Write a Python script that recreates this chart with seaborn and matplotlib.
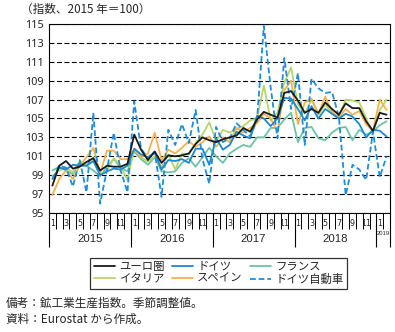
import numpy as np
import pandas as pd
import matplotlib
matplotlib.use("Agg")
import matplotlib.pyplot as plt
from matplotlib.lines import Line2D
import seaborn as sns

# Monthly industrial production index (2015 = 100), Jan 2015 - Feb 2019
euro_area = [97.9, 100.0, 100.5, 99.7, 99.9, 100.4, 100.8, 99.5, 100.0, 99.9, 99.9, 100.2,
             103.3, 101.7, 100.6, 101.5, 100.3, 101.1, 101.0, 101.1, 101.3, 102.3, 103.0, 102.7,
             102.5, 102.8, 103.0, 103.2, 104.0, 103.6, 104.9, 105.7, 105.4, 105.1, 107.7, 107.9,
             106.9, 105.6, 106.0, 105.6, 106.7, 106.0, 105.4, 106.6, 106.1, 106.1, 104.7, 103.7,
             105.6, 105.4]
germany = [98.6, 99.8, 99.6, 100.1, 100.0, 100.0, 100.5, 99.0, 99.4, 99.7, 99.6, 100.0,
           101.8, 101.2, 100.9, 101.4, 99.6, 100.6, 100.5, 100.7, 100.3, 101.8, 101.8, 100.1,
           102.9, 101.7, 102.2, 103.6, 103.2, 102.9, 105.3, 105.0, 104.2, 105.0, 107.2, 107.1,
           106.0, 104.8, 106.3, 105.0, 106.0, 105.5, 105.0, 105.5, 105.2, 104.4, 103.0, 103.8,
           103.7, 103.1]
france = [99.5, 99.9, 99.5, 99.1, 100.4, 100.0, 99.5, 98.9, 99.9, 100.7, 99.8, 99.4,
          101.5, 100.7, 100.1, 100.9, 99.4, 99.3, 99.4, 100.3, 100.8, 99.9, 100.9, 101.9,
          101.0, 100.3, 101.3, 101.8, 102.2, 102.0, 103.0, 103.0, 104.0, 104.0, 104.9, 105.6,
          102.5, 104.0, 104.1, 102.9, 102.7, 103.5, 104.0, 104.1, 102.7, 103.8, 103.3, 103.6,
          104.3, 104.7]
italy = [98.9, 99.5, 99.8, 99.3, 100.5, 100.1, 100.9, 99.0, 99.5, 100.8, 100.0, 98.5,
         101.8, 100.9, 100.4, 101.0, 99.8, 101.2, 99.6, 101.3, 101.2, 102.4, 103.3, 104.6,
         102.6, 103.8, 103.5, 103.9, 104.2, 104.8, 105.0, 108.5, 104.8, 105.6, 108.8, 110.4,
         106.5, 105.5, 107.0, 105.4, 106.5, 105.5, 105.2, 107.0, 106.9, 106.7, 105.0, 103.4,
         105.9, 107.0]
spain = [96.9, 98.6, 99.5, 98.6, 100.0, 100.9, 101.9, 99.2, 101.6, 101.6, 100.7, 100.7,
         101.7, 100.9, 101.3, 103.5, 100.6, 101.7, 101.3, 101.9, 102.6, 102.0, 102.5, 103.1,
         102.0, 103.0, 102.5, 104.0, 103.5, 104.0, 104.5, 105.5, 105.0, 103.6, 108.0, 109.0,
         104.4, 106.7, 107.1, 105.5, 107.3, 105.7, 105.1, 106.0, 105.4, 105.8, 104.4, 103.7,
         107.0, 105.9]
germany_auto = [98.6, 100.0, 99.8, 97.8, 100.6, 97.2, 105.6, 96.0, 99.6, 103.5, 99.5, 97.2,
                106.8, 101.8, 100.8, 101.5, 96.7, 103.8, 102.2, 104.4, 102.4, 105.9, 100.7, 98.1,
                104.1, 102.5, 102.9, 104.5, 103.8, 103.1, 104.8, 114.8, 108.3, 102.9, 111.4, 106.0,
                109.8, 102.2, 109.2, 108.2, 107.7, 107.8, 105.2, 96.9, 100.1, 99.6, 98.5, 103.6,
                98.8, 101.0]

series_names = ["ユーロ圏", "ドイツ", "フランス", "イタリア", "スペイン", "ドイツ自動車"]
month_labels = ["1", "3", "5", "7", "9", "11"]
year_labels = ["2015", "2016", "2017", "2018", "2019"]
y_ticks = [95, 97, 99, 101, 103, 105, 107, 109, 111, 113, 115]

series_values = [euro_area, germany, france, italy, spain, germany_auto]
n = len(euro_area)
df = pd.DataFrame({
    "t": np.tile(np.arange(n), len(series_names)),
    "value": np.concatenate(series_values),
    "series": np.repeat(series_names, n),
})

sns.set_theme(style="white")
plt.rcParams["font.family"] = ["Noto Sans CJK JP", "DejaVu Sans"]

palette = {
    "ユーロ圏": "#1a1a1a",
    "ドイツ": "#1b88d2",
    "フランス": "#6cc4a6",
    "イタリア": "#b6d66c",
    "スペイン": "#f4b24f",
    "ドイツ自動車": "#1f8ed8",
}
dash_map = {name: "" for name in series_names}
dash_map["ドイツ自動車"] = (3.2, 1.6)
draw_order = ["フランス", "イタリア", "スペイン", "ドイツ", "ドイツ自動車", "ユーロ圏"]

W, H = 395, 332
fig = plt.figure(figsize=(W / 100, H / 100), dpi=100)
L, R, T, B = 49, 390, 24, 213
ax = fig.add_axes([L / W, 1 - B / H, (R - L) / W, (B - T) / H])

sns.lineplot(data=df, x="t", y="value", hue="series", style="series",
             hue_order=draw_order, style_order=draw_order,
             palette=palette, dashes=dash_map, linewidth=1.3,
             legend=False, ax=ax)

# y axis
ax.set_ylim(95, 115)
ax.set_yticks(y_ticks)
ax.set_yticklabels([str(v) for v in y_ticks], fontsize=7.8, family="Noto Sans")
ax.tick_params(axis="y", length=0, pad=4)
ax.yaxis.grid(True, color="black", linestyle=(0, (4.5, 2.2)), linewidth=0.8)
ax.xaxis.grid(False)
ax.set_ylabel("")
ax.set_xlabel("")
for s in ax.spines.values():
    s.set_color("black")
    s.set_linewidth(0.8)

# x axis: month cells with short separators, years with long separators
ax.set_xlim(-0.5, n - 0.5)
year_bounds = [-0.5, 11.5, 23.5, 35.5, 47.5, n - 0.5]
ax.set_xticks(year_bounds)
ax.set_xticklabels([])
ax.set_xticks(np.arange(n + 1) - 0.5, minor=True)
ax.tick_params(axis="x", which="major", length=24.5, width=0.8, color="black",
               direction="out", bottom=True)
ax.tick_params(axis="x", which="minor", length=11.5, width=0.7, color="black",
               direction="out", bottom=True)

xtrans = ax.get_xaxis_transform()
axes_h = B - T
month_y = -(223 - B) / axes_h
year_y = -(239.5 - B) / axes_h
for i in range(n):
    m = i % 12
    if m % 2 == 0:
        ax.text(i, month_y, month_labels[m // 2], transform=xtrans,
                ha="center", va="center", fontsize=5.8, family="DejaVu Sans")
for k, yl in enumerate(year_labels):
    lo, hi = year_bounds[k], year_bounds[k + 1]
    small = (hi - lo) < 6
    ax.text((lo + hi) / 2, year_y + (0.03 if small else 0), yl, transform=xtrans,
            ha="center", va="center", fontsize=4.2 if small else 8.2,
            family="Liberation Sans")

# header and notes
fig.text(21 / W, 1 - 9.5 / H, "（指数、2015 年＝100）", fontsize=8.4, ha="left", va="center")
fig.text(6 / W, 1 - 303 / H, "備考：鉱工業生産指数。季節調整値。", fontsize=8.4, ha="left", va="center")
fig.text(6 / W, 1 - 319.5 / H, "資料：Eurostat から作成。", fontsize=8.4, ha="left", va="center")

# legend laid out row by row
handles = {name: Line2D([], [], color=palette[name], linewidth=1.3,
                        linestyle=(0, (3.2, 1.6)) if name == "ドイツ自動車" else "-")
           for name in series_names}
legend_order = ["ユーロ圏", "イタリア", "ドイツ", "スペイン", "フランス", "ドイツ自動車"]
leg = fig.legend([handles[k] for k in legend_order], legend_order, ncol=3,
                 loc="center", bbox_to_anchor=(218.5 / W, 1 - 273.5 / H),
                 fontsize=8.2, frameon=True, fancybox=False, edgecolor="black",
                 handlelength=1.9, handletextpad=0.35, columnspacing=0.6,
                 labelspacing=0.2, borderpad=0.3)
leg.get_frame().set_linewidth(0.9)

fig.savefig("out.png", dpi=100)
